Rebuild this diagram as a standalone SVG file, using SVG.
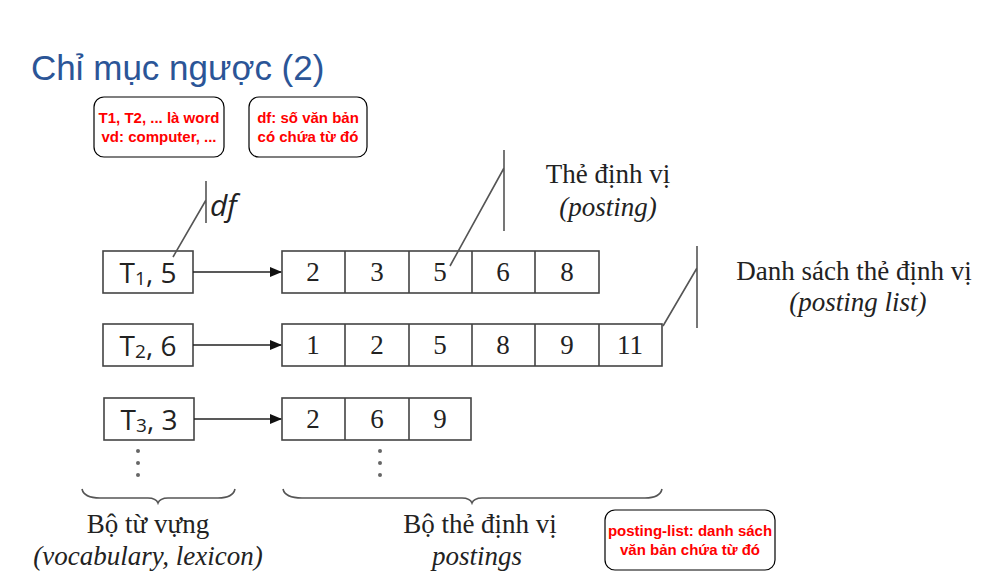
<svg xmlns="http://www.w3.org/2000/svg" width="983" height="577" viewBox="0 0 983 577">
<style>
.box{fill:#fff;stroke:#444;stroke-width:1.6}
.cell{fill:none;stroke:#444;stroke-width:1.6}
.num{font-family:"Liberation Serif",serif;font-size:27px;fill:#222;text-anchor:middle}
.term{font-family:"Open Sans","Liberation Sans",sans-serif;font-size:28px;fill:#222;text-anchor:middle}
.sub{font-size:19px}
.lbl{font-family:"Liberation Serif",serif;font-size:27px;fill:#222;text-anchor:middle}
.it{font-style:italic}
.note{fill:#fff;stroke:#000;stroke-width:1.2}
.ntxt{font-family:"Liberation Sans",Arial,sans-serif;font-size:15px;font-weight:bold;fill:#ff0000;text-anchor:middle}
.ln{fill:none;stroke:#555;stroke-width:1.6}
.dot{fill:#666}
</style>
<defs>
<marker id="ah" markerWidth="12" markerHeight="12" refX="11" refY="6" orient="auto" markerUnits="userSpaceOnUse">
<path d="M0,1 L12,6 L0,11 Z" fill="#111"/>
</marker>
</defs>
<rect width="983" height="577" fill="#fff"/>
<text x="31" y="80" font-family="Liberation Sans,Arial,sans-serif" font-size="35" fill="#2b5597">Chỉ mục ngược (2)</text>

<g id="note1">
<rect class="note" x="94" y="97" width="130" height="60" rx="10"/>
<text class="ntxt" x="159" y="123">T1, T2, ... là word</text>
<text class="ntxt" x="159" y="142">vd: computer, ...</text>
</g>
<g id="note2">
<rect class="note" x="249" y="97" width="118" height="60" rx="10"/>
<text class="ntxt" x="308" y="123">df: số văn bản</text>
<text class="ntxt" x="308" y="142">có chứa từ đó</text>
</g>
<g id="note3">
<rect class="note" x="605" y="510" width="170" height="60" rx="10"/>
<text class="ntxt" x="690" y="536">posting-list: danh sách</text>
<text class="ntxt" x="690" y="555">văn bản chứa từ đó</text>
</g>

<g id="term1">
<rect class="box" x="103" y="251" width="90" height="42"/>
<text class="term" x="148" y="283">T<tspan class="sub" dy="2">1</tspan><tspan dy="-2">, 5</tspan></text>
</g>
<g id="term2">
<rect class="box" x="103" y="324" width="90" height="42"/>
<text class="term" x="148" y="356">T<tspan class="sub" dy="2">2</tspan><tspan dy="-2">, 6</tspan></text>
</g>
<g id="term3">
<rect class="box" x="104" y="398" width="90" height="42"/>
<text class="term" x="149" y="430">T<tspan class="sub" dy="2">3</tspan><tspan dy="-2">, 3</tspan></text>
</g>

<g id="list1">
<rect class="box" x="282" y="251" width="317" height="42"/>
<path class="cell" d="M345,251V293M409,251V293M472,251V293M535,251V293"/>
<text class="num" x="313" y="281">2</text>
<text class="num" x="377" y="281">3</text>
<text class="num" x="440" y="281">5</text>
<text class="num" x="503" y="281">6</text>
<text class="num" x="567" y="281">8</text>
</g>
<g id="list2">
<rect class="box" x="282" y="324" width="380" height="42"/>
<path class="cell" d="M345,324V366M409,324V366M472,324V366M535,324V366M599,324V366"/>
<text class="num" x="313" y="354">1</text>
<text class="num" x="377" y="354">2</text>
<text class="num" x="440" y="354">5</text>
<text class="num" x="503" y="354">8</text>
<text class="num" x="567" y="354">9</text>
<text class="num" x="630" y="354">11</text>
</g>
<g id="list3">
<rect class="box" x="282" y="398" width="189" height="42"/>
<path class="cell" d="M345,398V440M409,398V440"/>
<text class="num" x="313" y="428">2</text>
<text class="num" x="377" y="428">6</text>
<text class="num" x="440" y="428">9</text>
</g>

<g id="connectors">
<line x1="193" y1="272" x2="281" y2="272" stroke="#222" stroke-width="1.6" marker-end="url(#ah)"/>
<line x1="193" y1="345" x2="281" y2="345" stroke="#222" stroke-width="1.6" marker-end="url(#ah)"/>
<line x1="194" y1="419" x2="281" y2="419" stroke="#222" stroke-width="1.6" marker-end="url(#ah)"/>
<path class="ln" d="M206,181V223M173,257L206,200"/>
<path class="ln" d="M504,150V231M450,266L504,168"/>
<path class="ln" d="M697,246V328M663,326L697,268"/>
</g>

<g id="dots">
<circle class="dot" cx="138" cy="451" r="2"/>
<circle class="dot" cx="138" cy="463" r="2"/>
<circle class="dot" cx="138" cy="475" r="2"/>
<circle class="dot" cx="380" cy="451" r="2"/>
<circle class="dot" cx="380" cy="463" r="2"/>
<circle class="dot" cx="380" cy="475" r="2"/>
</g>

<g id="braces">
<path class="ln" d="M82,489 Q84,498 100,498 L148,498 Q156,498 158,503 Q160,498 168,498 L218,498 Q233,498 235,489"/>
<path class="ln" d="M283,489 Q285,498 302,498 L462,498 Q470,498 472,503 Q474,498 482,498 L645,498 Q660,498 662,489"/>
</g>

<g id="labels">
<text x="210" y="216" font-family="Open Sans,Liberation Sans,sans-serif" font-size="30" font-style="italic" fill="#222">df</text>
<text class="lbl" x="608" y="183">Thẻ định vị</text>
<text class="lbl it" x="608" y="216">(posting)</text>
<text class="lbl" x="854" y="280">Danh sách thẻ định vị</text>
<text class="lbl it" x="858" y="311">(posting list)</text>
<text class="lbl" x="148" y="533">Bộ từ vựng</text>
<text class="lbl it" x="148" y="565">(vocabulary, lexicon)</text>
<text class="lbl" x="480" y="533">Bộ thẻ định vị</text>
<text class="lbl it" x="477" y="565">postings</text>
</g>
</svg>
